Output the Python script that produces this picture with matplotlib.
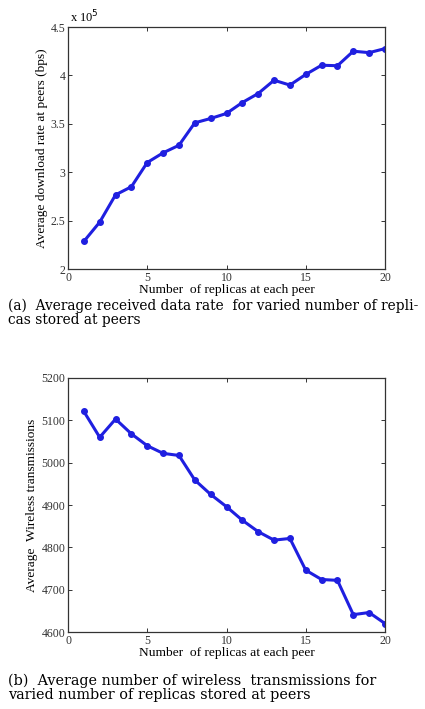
import matplotlib
matplotlib.use("Agg")
import matplotlib.pyplot as plt

plt.rcParams['font.family'] = ['Liberation Serif', 'DejaVu Serif']

# datos
replicas = list(range(1, 21))
rate_e5 = [2.285, 2.484, 2.766, 2.85, 3.10, 3.20, 3.278, 3.51, 3.555, 3.607,
           3.72, 3.813, 3.95, 3.90, 4.01, 4.105, 4.10, 4.25, 4.235, 4.277]
wireless = [5121, 5060, 5103, 5068, 5040, 5022, 5017, 4959, 4925, 4896,
            4864, 4837, 4817, 4821, 4746, 4724, 4722, 4641, 4646, 4620]

x_ticks = [0, 5, 10, 15, 20]
rate_ticks = [2, 2.5, 3, 3.5, 4, 4.5]
rate_labels = ["2", "2.5", "3", "3.5", "4", "4.5"]
wl_ticks = [4600, 4700, 4800, 4900, 5000, 5100, 5200]

caption_a = "(a)  Average received data rate  for varied number of repli-\ncas stored at peers"
caption_b = "(b)  Average number of wireless  transmissions for\nvaried number of replicas stored at peers"

W, H = 425, 709
fig = plt.figure(figsize=(W / 100, H / 100), dpi=100)

def box(l, t, r, b):
    return [l / W, 1 - b / H, (r - l) / W, (b - t) / H]

def estilo(ax):
    ax.tick_params(direction='in', top=True, right=True, labelsize=8.5,
                   length=3, width=0.7, colors='#333333')
    ax.tick_params(axis='x', pad=2.5)
    ax.tick_params(axis='y', pad=2)
    for s in ax.spines.values():
        s.set_linewidth(0.9)
        s.set_color('#333333')
    ax.set_xlim(0, 20)
    ax.set_xticks(x_ticks)
    ax.set_xlabel("Number  of replicas at each peer", fontsize=9.7, labelpad=0)

ax1 = fig.add_axes(box(68, 27, 385, 269))
ax1.plot(replicas, rate_e5, color='#1f1fe0', lw=2.2, marker='o', ms=4)
ax1.set_ylim(2, 4.5)
ax1.set_yticks(rate_ticks)
ax1.set_yticklabels(rate_labels)
ax1.set_ylabel("Average download rate at peers (bps)", fontsize=9.6, labelpad=2)
estilo(ax1)
ax1.text(0.005, 1.005, r"x 10$^5$", transform=ax1.transAxes, fontsize=9,
         va='bottom', ha='left')

ax2 = fig.add_axes(box(68, 378, 385, 632))
ax2.plot(replicas, wireless, color='#1f1fe0', lw=2.2, marker='o', ms=4)
ax2.set_ylim(4600, 5200)
ax2.set_yticks(wl_ticks)
ax2.set_ylabel("Average  Wireless transmissions", fontsize=9.6, labelpad=2)
estilo(ax2)

cap = dict(va='top', ha='left', linespacing=0.95, family=['DejaVu Serif'])
fig.text(8 / W, 1 - 299 / H, caption_a, fontsize=9.9, **cap)
fig.text(8 / W, 1 - 674 / H, caption_b, fontsize=10.4, **cap)

fig.savefig("out.png", dpi=100)
